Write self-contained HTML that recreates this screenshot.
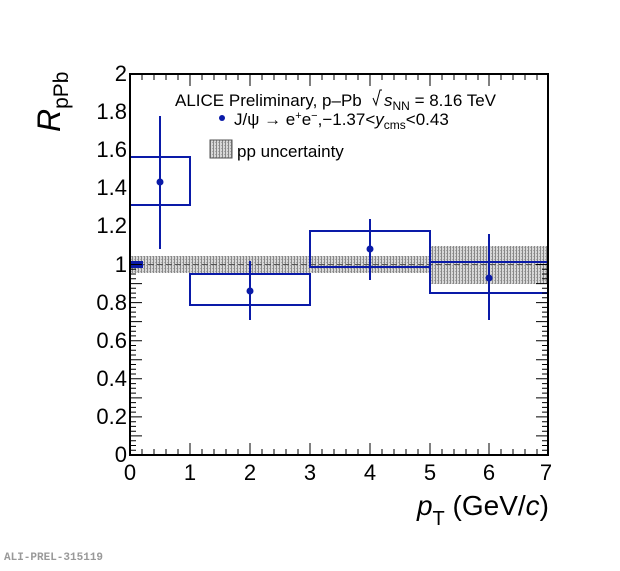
<!DOCTYPE html>
<html><head><meta charset="utf-8"><style>
html,body{margin:0;padding:0;background:#fff;}
svg text{font-family:"Liberation Sans",sans-serif;}
</style></head><body>
<svg width="620" height="566" viewBox="0 0 620 566" xmlns="http://www.w3.org/2000/svg">
<defs>
<pattern id="hatch" width="3" height="3" patternUnits="userSpaceOnUse">
<rect width="3" height="3" fill="#d8d8d8"/>
<rect width="1" height="3" fill="#888"/>
<rect x="2" y="1" width="1" height="1" fill="#aaa"/>
</pattern>
</defs>
<rect x="131" y="256" width="299" height="17" fill="url(#hatch)"/>
<rect x="430" y="246" width="118" height="38" fill="url(#hatch)"/>
<line x1="130" y1="264.5" x2="548" y2="264.5" stroke="#555" stroke-width="1" stroke-dasharray="6,3"/>
<g fill="none" stroke="#0a1aa8" stroke-width="2">
<rect x="130" y="157" width="60" height="48"/>
<rect x="190" y="274" width="120" height="31"/>
<rect x="310" y="231" width="120" height="36"/>
<rect x="430" y="262" width="118" height="31"/>
<line x1="160" y1="116" x2="160" y2="249"/>
<line x1="250" y1="261" x2="250" y2="320"/>
<line x1="370" y1="219" x2="370" y2="280"/>
<line x1="489" y1="234" x2="489" y2="320"/>
</g>
<g fill="#0a1aa8">
<circle cx="160" cy="182" r="3.5"/>
<circle cx="250" cy="291" r="3.5"/>
<circle cx="370" cy="249" r="3.5"/>
<circle cx="489" cy="278" r="3.5"/>
<rect x="131" y="261" width="12" height="7"/>
</g>
<rect x="130" y="74" width="418" height="381" fill="none" stroke="#000" stroke-width="2"/>
<g stroke="#000" stroke-width="1">
<path d="
M190,455v-12 M250,455v-12 M310,455v-12 M370,455v-12 M430,455v-12 M489,455v-12
M190,74v12 M250,74v12 M310,74v12 M370,74v12 M430,74v12 M489,74v12
M142,455v-6 M154,455v-6 M166,455v-6 M178,455v-6 M202,455v-6 M214,455v-6 M226,455v-6 M238,455v-6 M262,455v-6 M274,455v-6 M286,455v-6 M298,455v-6 M322,455v-6 M334,455v-6 M346,455v-6 M358,455v-6 M382,455v-6 M394,455v-6 M406,455v-6 M418,455v-6 M442,455v-6 M454,455v-6 M466,455v-6 M478,455v-6 M501,455v-6 M513,455v-6 M525,455v-6 M537,455v-6
M142,74v6 M154,74v6 M166,74v6 M178,74v6 M202,74v6 M214,74v6 M226,74v6 M238,74v6 M262,74v6 M274,74v6 M286,74v6 M298,74v6 M322,74v6 M334,74v6 M346,74v6 M358,74v6 M382,74v6 M394,74v6 M406,74v6 M418,74v6 M442,74v6 M454,74v6 M466,74v6 M478,74v6 M501,74v6 M513,74v6 M525,74v6 M537,74v6
"/>
</g>
<g id="yt" stroke="#000" stroke-width="1"></g>
<g font-size="22" text-anchor="end" fill="#000">
<text x="127" y="462">0</text>
<text x="127" y="424">0.2</text>
<text x="127" y="386">0.4</text>
<text x="127" y="348">0.6</text>
<text x="127" y="310">0.8</text>
<text x="127" y="272">1</text>
<text x="127" y="233">1.2</text>
<text x="127" y="195">1.4</text>
<text x="127" y="157">1.6</text>
<text x="127" y="119">1.8</text>
<text x="127" y="81">2</text>
</g>
<g font-size="22" text-anchor="middle" fill="#000">
<text x="130" y="480">0</text><text x="190" y="480">1</text><text x="250" y="480">2</text>
<text x="310" y="480">3</text><text x="370" y="480">4</text><text x="430" y="480">5</text>
<text x="489" y="480">6</text><text x="546" y="480">7</text>
</g>
<text x="549" y="515" font-size="28" text-anchor="end"><tspan font-style="italic">p</tspan><tspan font-size="20" dy="10">T</tspan><tspan dy="-10"> (GeV/</tspan><tspan font-style="italic">c</tspan>)</text>
<text transform="translate(60,132) rotate(-90)" font-size="32"><tspan font-style="italic">R</tspan><tspan font-size="21" dy="8">pPb</tspan></text>
<text x="175" y="106" font-size="17">ALICE Preliminary, p–Pb</text>
<path d="M373,98 l3,7 l4,-15 h2" fill="none" stroke="#000" stroke-width="1"/>
<text x="384" y="106" font-size="17"><tspan font-style="italic">s</tspan><tspan font-size="12" dy="4">NN</tspan><tspan dy="-4"> = 8.16 TeV</tspan></text>
<circle cx="222" cy="118" r="3" fill="#0a1aa8"/>
<text x="234" y="125" font-size="17">J/ψ → e<tspan font-size="11" dy="-6">+</tspan><tspan dy="6">e</tspan><tspan font-size="11" dy="-6">−</tspan><tspan dy="6">,−1.37&lt;</tspan><tspan font-style="italic">y</tspan><tspan font-size="12" dy="4">cms</tspan><tspan dy="-4">&lt;0.43</tspan></text>
<rect x="210" y="140" width="22" height="18" fill="url(#hatch)" stroke="#555" stroke-width="1"/>
<text x="237" y="157" font-size="17">pp uncertainty</text>
<text x="4" y="560" font-size="11" fill="#999" style="font-family:'Liberation Mono',monospace" font-weight="bold">ALI-PREL-315119</text>
<script>
var g=document.getElementById('yt'),d='';
for(var i=0;i<=40;i++){var y=455-i*190.5/20/2;var L=(i%4==0)?12:6;d+='M130,'+y.toFixed(1)+'h'+L+'M548,'+y.toFixed(1)+'h-'+L;}
var p=document.createElementNS('http://www.w3.org/2000/svg','path');p.setAttribute('d',d);g.appendChild(p);
</script>
</svg>
</body></html>
